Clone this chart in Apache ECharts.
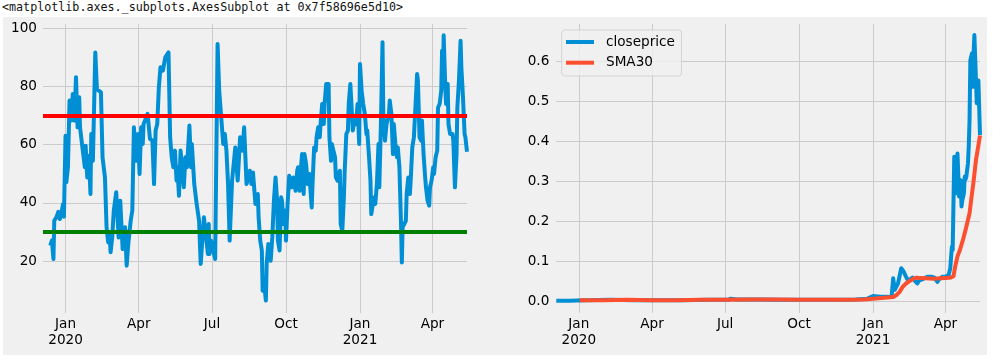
<!DOCTYPE html>
<html>
<head>
<meta charset="utf-8">
<script src="https://cdn.jsdelivr.net/npm/echarts@6/dist/echarts.min.js"></script>
<style>
  html, body { margin: 0; padding: 0; background: #ffffff; }
  #wrap { position: relative; width: 1002px; height: 363px; overflow: hidden; }
  #bg { position: absolute; left: 3px; top: 17px; width: 984px; height: 338px; background: #f0f0f0; }
  #repr { position: absolute; left: 2px; top: 0px; font-family: "DejaVu Sans Mono", "Liberation Mono", monospace; font-size: 11.7px; line-height: 15px; color: #111; white-space: pre; }
  #chart { position: absolute; left: 0; top: 0; width: 1002px; height: 363px; }
</style>
</head>
<body>
<div id="wrap">
  <div id="bg"></div>
  <div id="repr">&lt;matplotlib.axes._subplots.AxesSubplot at 0x7f58696e5d10&gt;</div>
  <div id="chart"></div>
</div>
<script>
// ---------------- data ----------------
const xStart = '2019-12-04';
const xEnd = '2021-05-14';
const xTickDates = ['2020-01-01','2020-04-01','2020-07-01','2020-10-01','2021-01-01','2021-04-01'];
const monthNames = ['Jan','Feb','Mar','Apr','May','Jun','Jul','Aug','Sep','Oct','Nov','Dec'];
const rsiTicks = [20, 40, 60, 80, 100];
const priceTicks = [0, 0.1, 0.2, 0.3, 0.4, 0.5, 0.6];
const overbought = 70;
const oversold = 30;

const rsiDates = [
 '2019-12-13','2019-12-15','2019-12-17','2019-12-18','2019-12-21','2019-12-23','2019-12-25','2019-12-27','2019-12-29','2019-12-30',
 '2020-01-01','2020-01-02','2020-01-04','2020-01-06','2020-01-08','2020-01-10','2020-01-12','2020-01-14','2020-01-16','2020-01-18',
 '2020-01-19','2020-01-22','2020-01-25','2020-01-26','2020-01-28','2020-01-30','2020-02-01','2020-02-02','2020-02-04','2020-02-06',
 '2020-02-07','2020-02-09','2020-02-14','2020-02-16','2020-02-19','2020-02-21','2020-02-23','2020-02-25','2020-02-26','2020-02-28',
 '2020-03-01','2020-03-04','2020-03-07','2020-03-09','2020-03-12','2020-03-15','2020-03-17','2020-03-19','2020-03-22','2020-03-24',
 '2020-03-26','2020-03-29','2020-03-31','2020-04-02','2020-04-04','2020-04-06','2020-04-07','2020-04-12','2020-04-15','2020-04-18',
 '2020-04-20','2020-04-22','2020-04-24','2020-04-26','2020-04-28','2020-05-01','2020-05-04','2020-05-08','2020-05-10','2020-05-12',
 '2020-05-14','2020-05-16','2020-05-18','2020-05-19','2020-05-21','2020-05-23','2020-05-27','2020-05-29','2020-05-31','2020-06-03',
 '2020-06-05','2020-06-06','2020-06-09','2020-06-12','2020-06-15','2020-06-17','2020-06-21','2020-06-26','2020-06-27','2020-06-28',
 '2020-06-30','2020-07-05','2020-07-08','2020-07-10','2020-07-15','2020-07-17','2020-07-19','2020-07-21','2020-07-23','2020-07-26',
 '2020-07-30','2020-08-02','2020-08-05','2020-08-08','2020-08-10','2020-08-13','2020-08-17','2020-08-19','2020-08-21','2020-08-24',
 '2020-08-27','2020-08-28','2020-08-30','2020-09-01','2020-09-02','2020-09-04','2020-09-06','2020-09-07','2020-09-09','2020-09-11',
 '2020-09-12','2020-09-14','2020-09-16','2020-09-18','2020-09-20','2020-09-21','2020-09-23','2020-09-25','2020-09-26','2020-09-28',
 '2020-09-30','2020-10-01','2020-10-03','2020-10-05','2020-10-06','2020-10-08','2020-10-10','2020-10-13','2020-10-15','2020-10-16',
 '2020-10-18','2020-10-19','2020-10-21','2020-10-23','2020-10-24','2020-10-26','2020-10-28','2020-10-30','2020-11-02','2020-11-03',
 '2020-11-05','2020-11-07','2020-11-08','2020-11-10','2020-11-12','2020-11-13','2020-11-15','2020-11-17','2020-11-18','2020-11-20',
 '2020-11-23','2020-11-24','2020-11-26','2020-11-27','2020-11-29','2020-12-01','2020-12-02','2020-12-04','2020-12-07','2020-12-08',
 '2020-12-10','2020-12-12','2020-12-13','2020-12-15','2020-12-17','2020-12-18','2020-12-20','2020-12-22','2020-12-23','2020-12-25',
 '2020-12-27','2020-12-29','2020-12-31','2021-01-01','2021-01-03','2021-01-05','2021-01-07','2021-01-09','2021-01-10','2021-01-12',
 '2021-01-14','2021-01-15','2021-01-17','2021-01-19','2021-01-20','2021-01-22','2021-01-24','2021-01-25','2021-01-27','2021-01-29',
 '2021-01-30','2021-02-01','2021-02-03','2021-02-04','2021-02-06','2021-02-07','2021-02-09','2021-02-11','2021-02-12','2021-02-14',
 '2021-02-16','2021-02-17','2021-02-19','2021-02-21','2021-02-22','2021-02-23','2021-02-25','2021-02-27','2021-02-28','2021-03-02',
 '2021-03-04','2021-03-05','2021-03-07','2021-03-09','2021-03-11','2021-03-13','2021-03-14','2021-03-16','2021-03-18','2021-03-19',
 '2021-03-21','2021-03-23','2021-03-24','2021-03-26','2021-03-28','2021-03-29','2021-03-31','2021-04-02','2021-04-03','2021-04-05',
 '2021-04-07','2021-04-08','2021-04-10','2021-04-12','2021-04-13','2021-04-14','2021-04-15','2021-04-17','2021-04-18','2021-04-20',
 '2021-04-21','2021-04-23','2021-04-26','2021-04-27','2021-04-29','2021-05-01','2021-05-02','2021-05-04','2021-05-06','2021-05-07',
 '2021-05-09','2021-05-11','2021-05-12','2021-05-14'
];
const rsiValues = [
 25.3,27.0,20.7,33.8,35.2,36.9,34.4,36.7,39.6,35.2,
 63.0,47.0,52.2,75.1,68.2,77.3,68.2,83.1,65.9,76.2,
 65.9,59.0,52.2,59.6,48.7,56.1,43.0,63.6,54.4,79.0,
 91.6,79.0,77.9,55.6,48.7,31.6,26.4,29.2,23.0,28.1,
 37.3,43.6,28.1,40.7,24.1,31.6,18.4,25.8,33.8,37.3,
 65.9,54.4,63.6,49.9,65.9,60.2,67.0,70.5,61.9,61.3,
 46.4,64.8,67.0,79.6,86.5,85.4,89.9,91.6,62.5,55.6,
 52.2,57.9,47.6,52.2,42.4,57.9,45.3,55.6,52.2,66.5,
 52.2,60.2,46.4,39.6,33.8,19.0,35.0,22.4,32.7,22.4,
 27.0,20.7,94.5,78.5,60.2,63.6,57.9,46.4,27.0,47.6,
 59.0,47.6,62.5,57.9,65.9,46.4,51.0,46.4,50.4,39.6,
 43.0,35.0,27.0,23.6,9.8,12.1,6.4,19.0,25.8,21.3,
 20.1,28.1,40.7,48.7,40.7,27.0,23.6,41.9,40.7,32.7,
 37.3,27.0,39.6,49.3,46.4,45.3,48.7,44.1,51.0,52.2,
 44.1,49.9,56.7,43.0,56.7,53.3,46.4,49.9,38.4,46.4,
 59.0,57.9,62.5,65.9,62.5,67.0,73.9,67.0,73.9,80.8,
 80.8,62.5,54.4,60.2,57.9,55.6,48.7,47.6,51.0,32.7,
 30.4,41.9,51.0,63.6,64.8,73.9,80.8,70.5,64.8,68.2,
 67.0,73.9,60.2,87.6,78.5,73.9,70.5,63.6,64.8,56.7,
 47.6,36.1,39.6,41.9,39.6,46.4,60.2,45.3,67.0,95.1,
 69.4,61.3,67.0,68.2,70.5,75.1,70.5,56.7,67.0,60.2,
 55.6,59.0,52.2,32.7,19.5,31.6,32.7,33.8,43.0,48.7,
 43.0,47.6,59.0,62.5,61.9,84.2,81.9,62.5,61.3,68.2,
 56.7,48.7,45.3,40.7,39.0,45.3,47.6,52.2,49.9,55.6,
 57.9,72.7,73.9,78.5,92.2,80.8,97.5,79.6,73.9,80.8,
 67.0,63.6,63.6,61.3,45.3,56.7,72.7,81.9,95.6,86.5,
 76.2,63.6,62.5,57.5
];

const closeDates = [
 '2019-12-04','2019-12-20','2020-01-10','2020-02-10','2020-03-10','2020-04-10','2020-05-10','2020-06-10','2020-07-05','2020-07-08',
 '2020-07-15','2020-08-10','2020-09-10','2020-10-10','2020-11-10','2020-12-10','2020-12-25','2021-01-01','2021-01-03','2021-01-10',
 '2021-01-17','2021-01-24','2021-01-26','2021-01-28','2021-01-30','2021-02-01','2021-02-03','2021-02-05','2021-02-06','2021-02-08',
 '2021-02-10','2021-02-12','2021-02-14','2021-02-16','2021-02-19','2021-02-21','2021-02-23','2021-02-25','2021-02-27','2021-03-01',
 '2021-03-03','2021-03-05','2021-03-07','2021-03-10','2021-03-12','2021-03-14','2021-03-16','2021-03-18','2021-03-20','2021-03-22',
 '2021-03-24','2021-03-26','2021-03-28','2021-03-30','2021-04-01','2021-04-03','2021-04-05','2021-04-07','2021-04-09','2021-04-10',
 '2021-04-12','2021-04-14','2021-04-15','2021-04-16','2021-04-17','2021-04-18','2021-04-20','2021-04-21','2021-04-22','2021-04-24',
 '2021-04-25','2021-04-26','2021-04-27','2021-04-29','2021-04-30','2021-05-01','2021-05-02','2021-05-04','2021-05-05','2021-05-06',
 '2021-05-07','2021-05-08','2021-05-09','2021-05-10','2021-05-11','2021-05-12','2021-05-13','2021-05-14'
];
const closeValues = [
 0.001,0.001,0.002,0.003,0.002,0.002,0.002,0.003,0.003,0.006,
 0.004,0.004,0.003,0.003,0.003,0.004,0.006,0.0125,0.013,0.011,
 0.011,0.010,0.057,0.028,0.036,0.044,0.040,0.082,0.084,0.074,
 0.065,0.057,0.050,0.054,0.059,0.053,0.057,0.044,0.051,0.048,
 0.054,0.057,0.0585,0.061,0.059,0.061,0.057,0.059,0.057,0.048,
 0.054,0.059,0.061,0.062,0.061,0.063,0.065,0.082,0.136,0.128,
 0.362,0.366,0.270,0.370,0.372,0.262,0.303,0.237,0.253,0.270,
 0.312,0.305,0.312,0.345,0.387,0.454,0.604,0.621,0.537,0.620,
 0.667,0.663,0.554,0.496,0.500,0.553,0.553,0.416
];

const smaDates = [
 '2020-01-02','2020-02-01','2020-03-01','2020-04-01','2020-05-01','2020-06-01','2020-07-01','2020-08-01','2020-09-01','2020-10-01',
 '2020-11-01','2020-12-01','2020-12-20','2021-01-01','2021-01-26','2021-01-30','2021-02-03','2021-02-07','2021-02-11','2021-02-16',
 '2021-02-20','2021-02-24','2021-02-28','2021-03-08','2021-03-17','2021-03-25','2021-04-02','2021-04-08','2021-04-11','2021-04-13',
 '2021-04-16','2021-04-19','2021-04-23','2021-04-27','2021-05-01','2021-05-03','2021-05-06','2021-05-09','2021-05-12','2021-05-14'
];
const smaValues = [
 0.002,0.002,0.003,0.002,0.002,0.003,0.003,0.004,0.004,0.003,
 0.003,0.003,0.004,0.006,0.010,0.015,0.023,0.036,0.044,0.051,
 0.056,0.0585,0.058,0.057,0.056,0.057,0.058,0.059,0.062,0.085,
 0.112,0.128,0.155,0.186,0.220,0.253,0.300,0.354,0.390,0.415
];

// ---------------- chart ----------------
const toPairs = (ds, vs) => ds.map((d, i) => [Date.parse(d), vs[i]]);
const xTicks = xTickDates.map(d => Date.parse(d));
const FONT = 'DejaVu Sans';
const FS = 13.6;
const GRID = '#cbcbcb';

function xAxisFor(gi) {
  return {
    type: 'value', gridIndex: gi,
    min: Date.parse(xStart), max: Date.parse(xEnd),
    axisLine: { show: false },
    axisTick: { show: false, customValues: xTicks },
    axisLabel: {
      customValues: xTicks, margin: 3, color: '#000', fontFamily: FONT, fontSize: FS, lineHeight: 16.5,
      formatter: function (v) {
        const dt = new Date(v);
        const m = dt.getUTCMonth();
        return m === 0 ? monthNames[m] + '\n' + dt.getUTCFullYear() : monthNames[m];
      }
    },
    splitLine: { show: true, lineStyle: { color: GRID, width: 1 } }
  };
}

const chart = echarts.init(document.getElementById('chart'), null, { renderer: 'canvas' });
chart.setOption({
  animation: false,
  backgroundColor: 'transparent',
  grid: [
    { left: 43, top: 24, width: 424, height: 289, outerBoundsMode: 'none', containLabel: false },
    { left: 556.3, top: 24, width: 423.7, height: 289, outerBoundsMode: 'none', containLabel: false }
  ],
  xAxis: [xAxisFor(0), xAxisFor(1)],
  yAxis: [
    {
      type: 'value', gridIndex: 0, min: 2.15, max: 101.37,
      axisLine: { show: false },
      axisTick: { show: false, customValues: rsiTicks },
      axisLabel: { customValues: rsiTicks, margin: 6, color: '#000', fontFamily: FONT, fontSize: FS,
        formatter: v => String(Math.round(v)) },
      splitLine: { show: true, lineStyle: { color: GRID, width: 1 } }
    },
    {
      type: 'value', gridIndex: 1, min: -0.030, max: 0.6946,
      axisLine: { show: false },
      axisTick: { show: false, customValues: priceTicks },
      axisLabel: { customValues: priceTicks, margin: 7, color: '#000', fontFamily: FONT, fontSize: FS,
        formatter: v => v.toFixed(1) },
      splitLine: { show: true, lineStyle: { color: GRID, width: 1 } }
    }
  ],
  legend: {
    data: ['closeprice', 'SMA30'],
    orient: 'vertical', left: 561.7, top: 30,
    icon: 'rect', itemWidth: 28, itemHeight: 4, itemGap: 4.7,
    padding: [4, 6.6, 5.3, 4.3],
    backgroundColor: 'rgba(240,240,240,0.8)', borderColor: '#d3d3d3', borderWidth: 1, borderRadius: 3,
    textStyle: { color: '#000', fontFamily: FONT, fontSize: FS, lineHeight: 16, padding: [0, 0, 0, 7] },
    selectedMode: false
  },
  series: [
    {
      name: 'RSI', type: 'line', xAxisIndex: 0, yAxisIndex: 0,
      data: toPairs(rsiDates, rsiValues),
      showSymbol: false, silent: true, z: 2,
      lineStyle: { color: '#008fd5', width: 4, join: 'round', cap: 'butt' },
      itemStyle: { color: '#008fd5' }
    },
    {
      name: 'levels', type: 'line', xAxisIndex: 0, yAxisIndex: 0, data: [], z: 5, silent: true,
      markLine: {
        symbol: 'none', silent: true, animation: false, label: { show: false },
        data: [
          { yAxis: overbought, lineStyle: { color: '#ff0000', width: 4, type: 'solid' } },
          { yAxis: oversold, lineStyle: { color: '#008000', width: 4, type: 'solid' } }
        ]
      }
    },
    {
      name: 'closeprice', type: 'line', xAxisIndex: 1, yAxisIndex: 1,
      data: toPairs(closeDates, closeValues),
      showSymbol: false, silent: true, z: 2,
      lineStyle: { color: '#008fd5', width: 4, join: 'round', cap: 'butt' },
      itemStyle: { color: '#008fd5' }
    },
    {
      name: 'SMA30', type: 'line', xAxisIndex: 1, yAxisIndex: 1,
      data: toPairs(smaDates, smaValues),
      showSymbol: false, silent: true, z: 3,
      lineStyle: { color: '#fc4f30', width: 4, join: 'round', cap: 'butt' },
      itemStyle: { color: '#fc4f30' }
    }
  ]
});
</script>
</body>
</html>
